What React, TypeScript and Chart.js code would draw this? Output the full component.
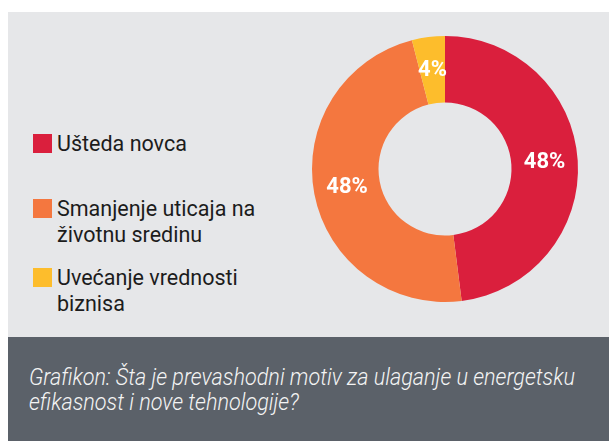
import React, { useEffect, useLayoutEffect, useRef, useState } from "react";
import { Chart, registerables } from "chart.js";

Chart.register(...registerables);

const categories = [
  "Ušteda novca",
  "Smanjenje uticaja na životnu sredinu",
  "Uvećanje vrednosti biznisa",
];
const legendLines = [
  ["Ušteda novca"],
  ["Smanjenje uticaja na", "životnu sredinu"],
  ["Uvećanje vrednosti", "biznisa"],
];
const values = [48, 48, 4];
const colors = ["#da1f3d", "#f4773f", "#fdbd2c"];
const captionLines = [
  "Grafikon: Šta je prevashodni motiv za ulaganje u energetsku",
  "efikasnost i nove tehnologije?",
];

const legendTops = [130.5, 195.5, 264.5];
const captionTargetWidth = 546;

const labelPlugin = {
  id: "pctLabels",
  afterDatasetsDraw(chart: any) {
    const ctx = chart.ctx;
    const meta = chart.getDatasetMeta(0);
    ctx.save();
    ctx.font = "bold 22px Roboto";
    ctx.fillStyle = "#ffffff";
    ctx.textAlign = "center";
    ctx.textBaseline = "middle";
    meta.data.forEach((arc: any, i: number) => {
      const p = arc.tooltipPosition(false);
      ctx.fillText(values[i] + "%", p.x, p.y);
    });
    ctx.restore();
  },
};

export default function App() {
  const ref = useRef<HTMLCanvasElement | null>(null);
  const capRef = useRef<HTMLSpanElement | null>(null);
  const [capScale, setCapScale] = useState(1);

  useLayoutEffect(() => {
    if (capRef.current) {
      const w = capRef.current.getBoundingClientRect().width;
      if (w > 0) setCapScale(captionTargetWidth / w);
    }
  }, []);

  useEffect(() => {
    if (!ref.current) return;
    const chart = new Chart(ref.current, {
      type: "doughnut",
      data: {
        labels: categories,
        datasets: [
          {
            data: values,
            backgroundColor: colors,
            borderWidth: 0,
            hoverBorderWidth: 0,
            hoverOffset: 0,
          },
        ],
      },
      options: {
        responsive: false,
        animation: false,
        events: [],
        cutout: "50%",
        layout: { padding: 17 },
        plugins: {
          legend: { display: false },
          tooltip: { enabled: false },
        },
      },
      plugins: [labelPlugin],
    });
    return () => chart.destroy();
  }, []);

  return (
    <div
      style={{
        position: "fixed",
        left: 0,
        top: 0,
        width: 609,
        height: 441,
        background: "#ffffff",
        overflow: "hidden",
        fontFamily: "Roboto, sans-serif",
      }}
    >
      <div
        style={{
          position: "absolute",
          left: 8,
          top: 12,
          width: 601,
          height: 325,
          background: "#e6e7e9",
        }}
      />
      <div
        style={{
          position: "absolute",
          left: 8,
          top: 337,
          width: 601,
          height: 104,
          background: "#5b6169",
        }}
      />
      {legendLines.map((lines, i) => (
        <div
          key={i}
          style={{ position: "absolute", left: 33, top: legendTops[i] }}
        >
          <div
            style={{
              position: "absolute",
              left: 0,
              top: 3.5,
              width: 19,
              height: 19,
              background: colors[i],
            }}
          />
          <div
            style={{
              position: "absolute",
              left: 24,
              top: 0,
              fontSize: 21.5,
              lineHeight: "26px",
              color: "#1c1c1c",
              whiteSpace: "nowrap",
            }}
          >
            {lines.map((l, j) => (
              <div key={j}>{l}</div>
            ))}
          </div>
        </div>
      ))}
      <canvas
        ref={ref}
        width={300}
        height={300}
        style={{ position: "absolute", left: 295, top: 19, width: 300, height: 300 }}
      />
      <div
        style={{
          position: "absolute",
          left: 29,
          top: 364.5,
          fontSize: 23,
          lineHeight: "25px",
          fontStyle: "italic",
          fontWeight: 300,
          color: "#f4f4f4",
          whiteSpace: "nowrap",
          transform: `scaleX(${capScale})`,
          transformOrigin: "0 0",
        }}
      >
        {captionLines.map((l, j) => (
          <div key={j}>
            <span ref={j === 0 ? capRef : undefined}>{l}</span>
          </div>
        ))}
      </div>
    </div>
  );
}
